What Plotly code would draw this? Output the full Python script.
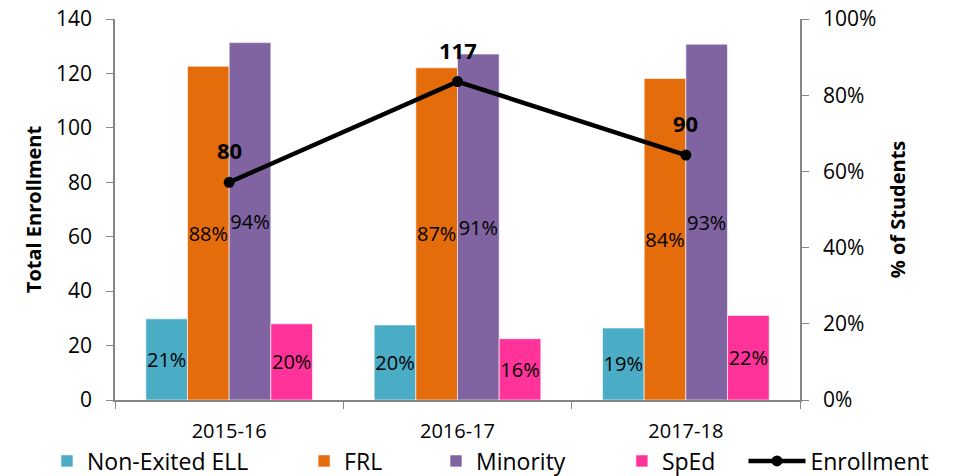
import plotly.graph_objects as go

years = ["2015-16", "2016-17", "2017-18"]
enrollment = [80, 117, 90]
ell_pct = [21.3, 19.7, 18.9]
frl_pct = [87.6, 87.2, 84.4]
minority_pct = [93.8, 90.8, 93.4]
sped_pct = [20.0, 16.1, 22.2]

FONT = "Open Sans"
AXIS_COLOR = "#868686"

series = [
    ("Non-Exited ELL", ell_pct, "#4BACC6", "legend"),
    ("FRL", frl_pct, "#E46C0A", "legend2"),
    ("Minority", minority_pct, "#8064A2", "legend3"),
    ("SpEd", sped_pct, "#FF3399", "legend4"),
]

fig = go.Figure()
for name, vals, color, leg in series:
    fig.add_trace(go.Bar(
        x=years, y=vals, name=name, yaxis="y", legend=leg,
        marker=dict(color=color, line=dict(color="rgba(255,255,255,0.6)", width=1)),
        texttemplate="%{y:.0f}%", textposition="inside", insidetextanchor="middle",
        textangle=0, constraintext="none",
        textfont=dict(family=FONT, size=20, color="black"),
        hoverinfo="skip",
    ))

fig.add_trace(go.Scatter(
    x=years, y=enrollment, name="Enrollment", yaxis="y2", legend="legend5",
    mode="lines+markers",
    line=dict(color="black", width=4.5),
    marker=dict(color="black", size=11),
))

for x, y in zip(years, enrollment):
    fig.add_annotation(x=x, y=y, xref="x", yref="y2", text=f"<b>{y}</b>",
                       showarrow=False, yshift=32,
                       font=dict(family=FONT, size=22, color="black"))

LEG_Y = -0.16
def leg(xpos, itemwidth=30):
    return dict(orientation="h", x=xpos, xanchor="left", y=LEG_Y, yanchor="middle",
                font=dict(family=FONT, size=23, color="black"),
                itemwidth=itemwidth, bgcolor="rgba(0,0,0,0)")

fig.update_layout(
    width=957, height=476,
    margin=dict(l=115, r=157, t=19, b=76, autoexpand=False),
    paper_bgcolor="white", plot_bgcolor="white",
    font=dict(family=FONT, size=20, color="black"),
    barmode="group", bargap=0.27, bargroupgap=0,
    showlegend=True,
    legend=leg(-0.0993),
    legend2=leg(0.276),
    legend3=leg(0.4686),
    legend4=leg(0.740),
    legend5=leg(0.9175, itemwidth=57),
    xaxis=dict(type="category", showline=True, linecolor=AXIS_COLOR, linewidth=1.5,
               ticks="outside", tickson="boundaries", ticklen=7, tickcolor=AXIS_COLOR,
               ticklabelstandoff=12,
               tickfont=dict(family=FONT, size=20), showgrid=False),
    yaxis=dict(side="right", range=[0, 100], dtick=20, ticksuffix="%",
               showline=True, linecolor=AXIS_COLOR, linewidth=1.5,
               ticks="outside", ticklen=7, tickcolor=AXIS_COLOR,
               ticklabelstandoff=10,
               showgrid=False, zeroline=False,
               tickfont=dict(family=FONT, size=21),
               title=dict(text="<b>% of Students</b>", font=dict(family=FONT, size=20), standoff=16)),
    yaxis2=dict(side="left", overlaying="y", range=[0, 140], dtick=20,
                showline=True, linecolor=AXIS_COLOR, linewidth=1.5,
                ticks="outside", ticklen=7, tickcolor=AXIS_COLOR,
                ticklabelstandoff=10,
                showgrid=False, zeroline=False,
                tickfont=dict(family=FONT, size=21),
                title=dict(text="<b>Total Enrollment</b>", font=dict(family=FONT, size=20), standoff=9)),
)

fig.write_html("out.html", config={"displayModeBar": False},
               post_script="document.body.style.margin='0';document.body.style.overflow='hidden';")
